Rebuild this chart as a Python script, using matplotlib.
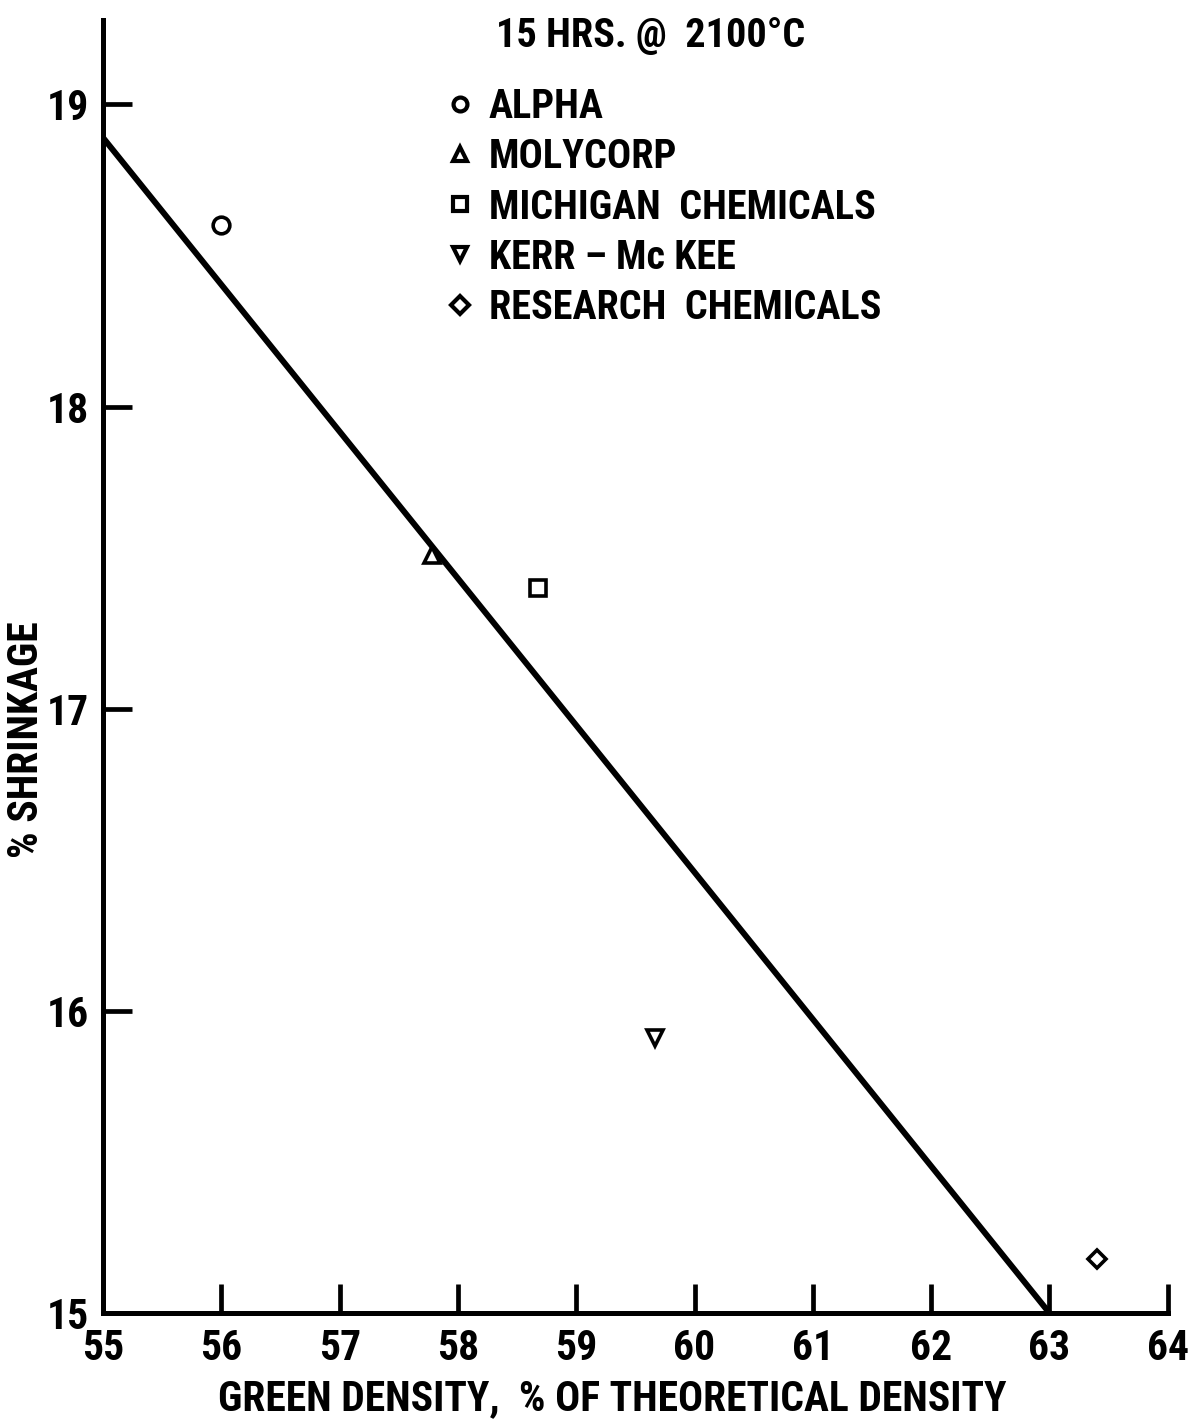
import matplotlib
matplotlib.use("Agg")
import matplotlib.pyplot as plt
from matplotlib import font_manager
from matplotlib.lines import Line2D

# data
suppliers = ["ALPHA", "MOLYCORP", "MICHIGAN  CHEMICALS", "KERR \u2013 Mc KEE", "RESEARCH  CHEMICALS"]
green_density = [56.0, 57.78, 58.68, 59.67, 63.40]
shrinkage = [18.60, 17.51, 17.40, 15.91, 15.18]
markers = ["o", "^", "s", "v", "D"]

# fitted line
fit_x = [55.0, 63.0]
fit_y = [18.89, 15.0]

x_ticks = list(range(55, 65))
y_ticks = [15, 16, 17, 18, 19]

# narrow bold lettering, use a condensed face when one is there
available = {f.name for f in font_manager.fontManager.ttflist}
family = "DejaVu Sans"
for cand in ["Roboto Condensed", "Liberation Sans Narrow", "Open Sans Condensed"]:
    if cand in available:
        family = cand
        break
plt.rcParams["font.family"] = [family, "DejaVu Sans"]
plt.rcParams["font.weight"] = "bold"
if family == "DejaVu Sans":
    plt.rcParams["font.stretch"] = "condensed"


def main():
    fig = plt.figure(figsize=(11.94, 14.21), dpi=100)
    ax = fig.add_axes([0.0863, 0.076, 0.978 - 0.0863, 0.986 - 0.076])

    ax.plot(fit_x, fit_y, color="black", linewidth=4.3, solid_capstyle="butt")

    for x, y, m in zip(green_density, shrinkage, markers):
        ms = 9 if m == "D" else 12
        ax.plot(x, y, marker=m, markersize=ms, markerfacecolor="white",
                markeredgecolor="black", markeredgewidth=2.6, linestyle="none")

    ax.set_xlim(55, 64)
    ax.set_ylim(15, 19.28)
    ax.set_xticks(x_ticks)
    ax.set_yticks(y_ticks)
    ax.set_xticklabels([str(t) for t in x_ticks])
    ax.set_yticklabels([str(t) for t in y_ticks])

    for side in ["top", "right"]:
        ax.spines[side].set_visible(False)
    for side in ["left", "bottom"]:
        ax.spines[side].set_linewidth(3.6)

    ax.tick_params(direction="in", length=21, width=3.4, labelsize=30)
    ax.tick_params(axis="x", pad=11)
    ax.tick_params(axis="y", pad=10)

    ax.set_xlabel("GREEN DENSITY,  % OF THEORETICAL DENSITY", fontsize=30,
                  fontweight="bold")
    ax.xaxis.set_label_coords(0.478, -0.05)
    ax.set_ylabel("% SHRINKAGE", fontsize=30, fontweight="bold")
    ax.yaxis.set_label_coords(-0.053, 0.443)

    # legend
    fig.text(0.545, 0.975, "15 HRS. @  2100\u00b0C", ha="center", va="center",
             fontsize=29, fontweight="bold")
    handles = [Line2D([], [], marker=m, markersize=10 if m != "D" else 9,
                      markerfacecolor="white", markeredgecolor="black",
                      markeredgewidth=3.0, linestyle="none") for m in markers]
    leg = fig.legend(handles, suppliers, loc="upper left",
                     bbox_to_anchor=(0.357, 0.952), frameon=False,
                     fontsize=29, handlelength=0.7, handletextpad=0.35,
                     labelspacing=0.3, borderpad=0)
    for t in leg.get_texts():
        t.set_fontweight("bold")

    fig.savefig("out.png", dpi=100, facecolor="white")


if __name__ == "__main__":
    main()
